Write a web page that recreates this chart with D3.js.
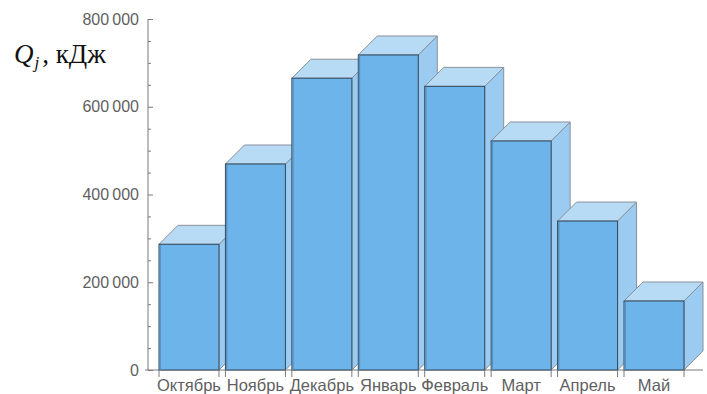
<!DOCTYPE html>
<html>
<head>
<meta charset="utf-8">
<script src="https://cdn.jsdelivr.net/npm/d3@7"></script>
<style>
  html, body { margin: 0; padding: 0; background: #fff; }
  svg { display: block; }
</style>
</head>
<body>
<svg id="chart" width="707" height="394"></svg>
<script>
// Monthly heat demand, kJ
const months = ["Октябрь", "Ноябрь", "Декабрь", "Январь", "Февраль", "Март", "Апрель", "Май"];
const heat = [286500, 469500, 665000, 718000, 646500, 522000, 339500, 157300];
const yMajorTicks = [0, 200000, 400000, 600000, 800000];

const svg = d3.select("#chart");

const x = d3.scaleBand().domain(months).range([159, 684]).paddingInner(0.0968).paddingOuter(0);
const y = d3.scaleLinear().domain([0, 800000]).range([370, 19]);

// oblique depth of the 3D boxes
const dx = 19, dy = 19;

const fmt = d3.formatLocale({ decimal: ".", thousands: "\u2009", grouping: [3], currency: ["", ""] }).format(",d");

const textColor = "#5f5f5f";
const axisColor = "#7a7a7a";

// Axis frame
const axisX = 148;
svg.append("line")
  .attr("x1", axisX).attr("x2", axisX)
  .attr("y1", y(800000)).attr("y2", y(0))
  .attr("stroke", axisColor).attr("stroke-width", 1);
svg.append("line")
  .attr("x1", 145).attr("x2", 703)
  .attr("y1", y(0)).attr("y2", y(0))
  .attr("stroke", axisColor).attr("stroke-width", 1);

// Y axis: major ticks with labels, minor ticks every 50 000
const yAxis = d3.axisLeft(y).tickValues(yMajorTicks).tickSize(-5).tickPadding(9).tickFormat(fmt);
const gy = svg.append("g").attr("transform", `translate(${axisX},0)`).call(yAxis);
gy.select(".domain").remove();
gy.selectAll(".tick line").attr("stroke", axisColor);
gy.selectAll(".tick text")
  .attr("fill", textColor)
  .style("font-family", "'Liberation Sans', Arial, sans-serif")
  .style("font-size", "16px");

const minorVals = d3.range(0, 800001, 50000).filter(v => v % 200000 !== 0);
const yMinor = d3.axisLeft(y).tickValues(minorVals).tickSize(-3).tickFormat("");
const gm = svg.append("g").attr("transform", `translate(${axisX},0)`).call(yMinor);
gm.select(".domain").remove();
gm.selectAll(".tick line").attr("stroke", axisColor);

// Bars as oblique boxes, drawn left to right so each covers its neighbour's side
const frontFill = "#6cb4e9", topFill = "#b7daf5", sideFill = "#9ccbf1";
const data = months.map((m, i) => ({ m, v: heat[i] }));

const bars = svg.append("g");
data.forEach(d => {
  const x0 = x(d.m), x1 = x0 + x.bandwidth();
  const y0 = y(0), y1 = y(d.v);
  const g = bars.append("g");
  // side face
  g.append("path")
    .attr("d", `M${x1},${y0} L${x1 + dx},${y0 - dy} L${x1 + dx},${y1 - dy} L${x1},${y1} Z`)
    .attr("fill", sideFill).attr("stroke", "#8a9098").attr("stroke-width", 1).attr("stroke-linejoin", "round");
  // top face
  g.append("path")
    .attr("d", `M${x0},${y1} L${x0 + dx},${y1 - dy} L${x1 + dx},${y1 - dy} L${x1},${y1} Z`)
    .attr("fill", topFill).attr("stroke", "#8a9098").attr("stroke-width", 1).attr("stroke-linejoin", "round");
  // front face
  g.append("rect")
    .attr("x", x0).attr("y", y1).attr("width", x1 - x0).attr("height", y0 - y1)
    .attr("fill", frontFill).attr("stroke", "#34495c").attr("stroke-width", 1);
  // shaded left edge of the front face
  g.append("line")
    .attr("x1", x0 + 1.2).attr("x2", x0 + 1.2).attr("y1", y1 + 1).attr("y2", y0)
    .attr("stroke", "#5b8fbd").attr("stroke-width", 1.4);
});

// Category ticks at both edges of each bar, below the baseline
const edges = [];
data.forEach(d => { edges.push(x(d.m), x(d.m) + x.bandwidth()); });
svg.append("g").selectAll("line").data(edges).join("line")
  .attr("x1", e => e).attr("x2", e => e)
  .attr("y1", y(0)).attr("y2", y(0) + 7)
  .attr("stroke", axisColor).attr("stroke-width", 1);

// Category labels
svg.append("g").selectAll("text").data(months).join("text")
  .attr("x", m => x(m) + x.bandwidth() / 2)
  .attr("y", 391)
  .attr("text-anchor", "middle")
  .attr("fill", textColor)
  .style("font-family", "'Liberation Sans', Arial, sans-serif")
  .style("font-size", "16.5px")
  .text(m => m);

// Axis title: Q_j, кДж
const title = svg.append("text")
  .attr("x", 14).attr("y", 63)
  .attr("fill", "#111")
  .style("font-family", "'Liberation Serif', 'Times New Roman', serif")
  .style("font-size", "27px");
title.append("tspan").style("font-style", "italic").text("Q");
title.append("tspan").style("font-style", "italic").style("font-size", "17px").attr("dy", 5).attr("dx", 1).text("j");
title.append("tspan").attr("dy", -5).attr("dx", 3).text(", кДж");
</script>
</body>
</html>
